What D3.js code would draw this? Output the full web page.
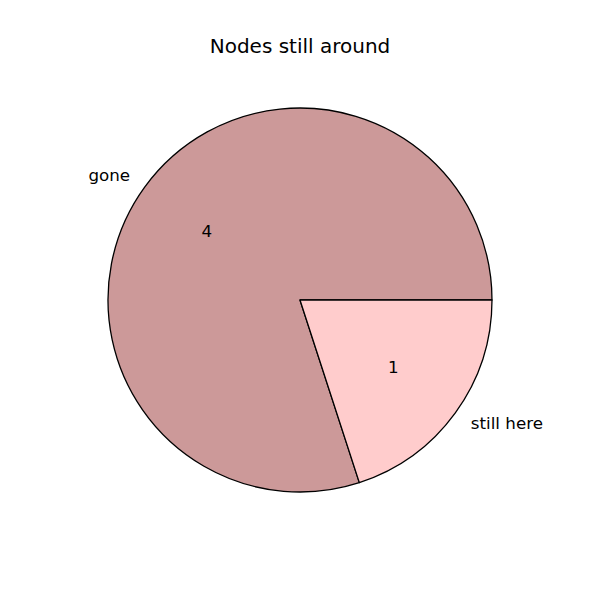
<!DOCTYPE html>
<html>
<head>
<meta charset="utf-8">
<script src="https://cdn.jsdelivr.net/npm/d3@7"></script>
<style>
  body { margin: 0; background: #fff; }
</style>
</head>
<body>
<svg id="chart" width="600" height="600"></svg>
<script>
const categories = ["gone", "still here"];
const values = [4, 1];
const colors = ["#cc9999", "#ffcccc"];
const title = "Nodes still around";

const FONT = "DejaVu Sans";
const svg = d3.select("#chart");
const cx = 300, cy = 300, r = 192;

svg.append("rect").attr("width", 600).attr("height", 600).attr("fill", "#fff");

svg.append("text")
  .attr("x", 300).attr("y", 53)
  .attr("text-anchor", "middle")
  .attr("font-family", FONT)
  .attr("font-size", 20)
  .text(title);

const data = categories.map((c, i) => ({ cat: c, val: values[i], col: colors[i] }));

// matplotlib style: start at 3 o'clock, counterclockwise
const pie = d3.pie().value(d => d.val).sort(null)
  .startAngle(Math.PI / 2).endAngle(Math.PI / 2 - 2 * Math.PI);

const arcs = pie(data);
const arc = d3.arc().innerRadius(0).outerRadius(r);

const g = svg.append("g").attr("transform", `translate(${cx},${cy})`);

g.selectAll("path").data(arcs).join("path")
  .attr("d", arc)
  .attr("fill", d => d.data.col)
  .attr("stroke", "#000")
  .attr("stroke-width", 1.3)
  .attr("stroke-linejoin", "round");

function pos(d, f) {
  const a = (d.startAngle + d.endAngle) / 2; // d3 angle: clockwise from 12 o'clock
  return [f * r * Math.sin(a), -f * r * Math.cos(a)];
}

g.selectAll("text.lbl").data(arcs).join("text")
  .attr("class", "lbl")
  .attr("x", d => pos(d, 1.1)[0] + (pos(d, 1.1)[0] < 0 ? 1 : 0))
  .attr("y", d => pos(d, 1.1)[1])
  .attr("dy", 5)
  .attr("text-anchor", d => pos(d, 1.1)[0] < 0 ? "end" : "start")
  .attr("font-family", FONT)
  .attr("font-size", 16.7)
  .text(d => d.data.cat);

g.selectAll("text.val").data(arcs).join("text")
  .attr("class", "val")
  .attr("x", d => pos(d, 0.6)[0])
  .attr("y", d => pos(d, 0.6)[1])
  .attr("dy", 5)
  .attr("text-anchor", "middle")
  .attr("font-family", FONT)
  .attr("font-size", 16.7)
  .text(d => d.data.val);
</script>
</body>
</html>
